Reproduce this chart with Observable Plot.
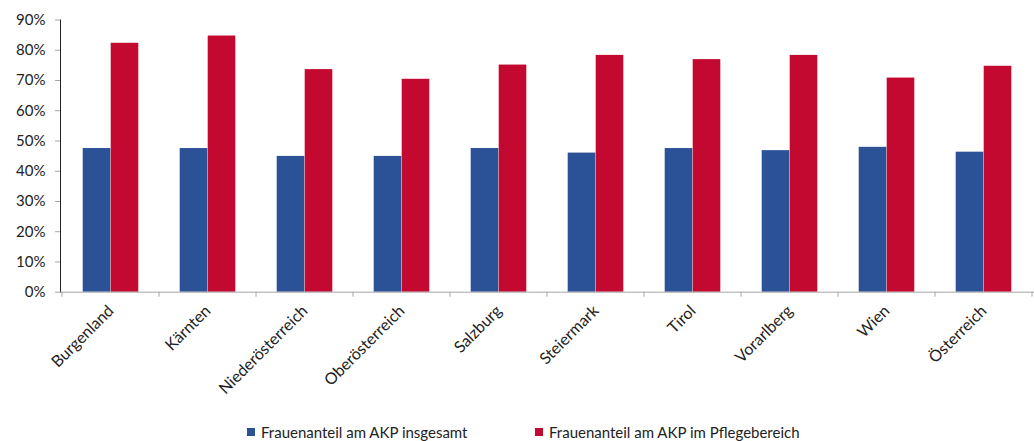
<!DOCTYPE html>
<html><head><meta charset="utf-8">
<script src="https://cdn.jsdelivr.net/npm/d3@7"></script>
<script src="https://cdn.jsdelivr.net/npm/@observablehq/plot@0.6"></script>
<style>
body{margin:0;background:#fff;font-family:Lato,"Liberation Sans",sans-serif;}
#legend{position:relative;height:19px;font-size:15px;color:#222;}
.item{position:absolute;top:0;display:flex;align-items:center;height:19px;white-space:nowrap;}
.sw{width:8px;height:8px;margin-right:6px;}
</style></head><body>
<div id="chart"></div>
<div id="legend"></div>
<script>
const regions = ["Burgenland","Kärnten","Niederösterreich","Oberösterreich","Salzburg","Steiermark","Tirol","Vorarlberg","Wien","Österreich"];
const insgesamt = [0.475,0.475,0.449,0.449,0.475,0.460,0.475,0.468,0.479,0.463];
const pflege = [0.823,0.847,0.736,0.704,0.751,0.783,0.769,0.783,0.708,0.747];
const seriesNames = ["Frauenanteil am AKP insgesamt","Frauenanteil am AKP im Pflegebereich"];
const colors = ["#2b5197","#c3092f"];
const yTicks = [0,0.1,0.2,0.3,0.4,0.5,0.6,0.7,0.8,0.9];

const data = regions.map((r,i)=>({region:r, a:insgesamt[i], b:pflege[i]}));
const W = 1034, H = 422, mL = 60, mR = 0;
const bw = (W - mL - mR) / regions.length;
const outer = bw * 0.2125;
const half = bw * 0.5;
const axisColor = "#a6a6a6";

function boundaryTicks(index, scales) {
  const g = d3.create("svg:g");
  const y0 = scales.y(0);
  const xs = regions.map(r => scales.x(r));
  xs.push(scales.x(regions[regions.length-1]) + scales.x.bandwidth());
  for (const x of xs) {
    g.append("line").attr("x1", x).attr("x2", x).attr("y1", y0).attr("y2", y0 + 5)
      .attr("stroke", axisColor).attr("stroke-width", 1);
  }
  return g.node();
}

const chart = Plot.plot({
  width: W, height: H,
  marginLeft: mL, marginRight: mR, marginTop: 19.5, marginBottom: H - 291.7,
  style: {fontFamily: "Lato, 'Liberation Sans', sans-serif", fontSize: "15px", color: "#222", background: "#fff"},
  x: {domain: regions, padding: 0, label: null, tickRotate: -45, tickSize: 0, tickPadding: 16},
  y: {domain: [0, 0.9], ticks: yTicks, tickFormat: d3.format(".0%"), label: null, tickSize: 5, tickPadding: 10, line: true},
  marks: [
    Plot.barY(data, {x: "region", y: "a", fill: colors[0], insetLeft: outer, insetRight: half}),
    Plot.barY(data, {x: "region", y: "b", fill: colors[1], insetLeft: half, insetRight: outer}),
    Plot.ruleY([0], {stroke: axisColor}),
    boundaryTicks
  ]
});
chart.querySelectorAll('[aria-label="y-axis"] line, [aria-label="y-axis"] path, [aria-label="y-axis tick"] path, [aria-label="y-axis tick"]').forEach(e => e.setAttribute("stroke", axisColor));
chart.querySelectorAll('[aria-label="x-axis tick label"], [aria-label="x-axis"] text').forEach(e => e.setAttribute("font-size", "16px"));
document.getElementById("chart").appendChild(chart);

const legend = document.getElementById("legend");
const lx = [247, 535];
seriesNames.forEach((n, i) => {
  const it = document.createElement("div");
  it.className = "item";
  it.style.left = lx[i] + "px";
  it.innerHTML = `<span class="sw" style="background:${colors[i]}"></span><span>${n}</span>`;
  legend.appendChild(it);
});
</script>
</body></html>
